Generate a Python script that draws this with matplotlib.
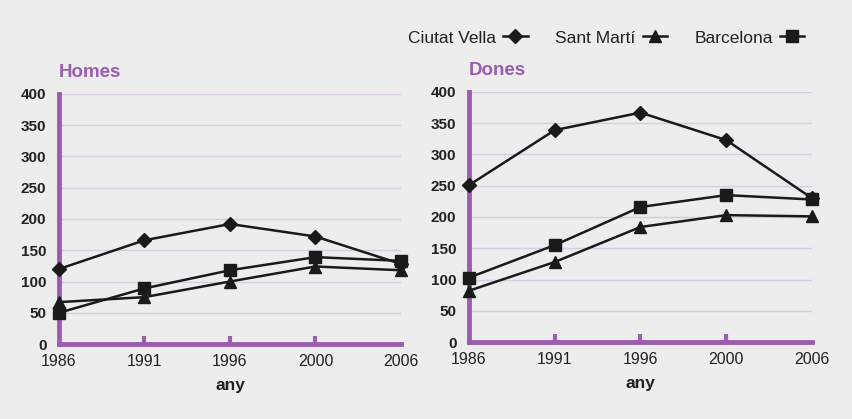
import matplotlib.pyplot as plt

years = ["1986", "1991", "1996", "2000", "2006"]
series_names = ["Ciutat Vella", "Sant Martí", "Barcelona"]
markers = ["D", "^", "s"]

homes_ciutat_vella = [120, 166, 192, 172, 128]
homes_sant_marti = [67, 75, 100, 124, 118]
homes_barcelona = [50, 89, 118, 139, 133]

dones_ciutat_vella = [251, 339, 367, 323, 230]
dones_sant_marti = [82, 128, 184, 203, 201]
dones_barcelona = [103, 155, 216, 235, 228]

yticks = [0, 50, 100, 150, 200, 250, 300, 350, 400]

PURPLE = "#9a5db0"
GRID = "#d9cbe2"
BG = "#ededed"
INK = "#222222"

plt.rcParams["font.family"] = ["Liberation Sans", "DejaVu Sans"]

fig = plt.figure(figsize=(8.53, 4.19), dpi=100, facecolor=BG)
ax1 = fig.add_axes([59 / 853, 1 - 344 / 419, 342 / 853, 250 / 419])
ax2 = fig.add_axes([469 / 853, 1 - 342 / 419, 343 / 853, 250 / 419])


def draw_panel(ax, data, title):
    ax.set_facecolor(BG)
    x = range(len(years))
    handles = []
    for vals, m, name in zip(data, markers, series_names):
        ms = 7 if m == "D" else 9
        h, = ax.plot(x, vals, color="#1a1a1a", lw=1.8, marker=m, ms=ms,
                     clip_on=False, zorder=3, label=name)
        handles.append(h)
    ax.set_xlim(0, 4)
    ax.set_ylim(0, 400)
    ax.set_yticks(yticks)
    ax.set_yticklabels([str(v) for v in yticks], fontweight="bold",
                       fontsize=11, color=INK)
    ax.set_xticks(list(x))
    ax.set_xticklabels(years, fontsize=11.5, color=INK)
    ax.tick_params(axis="y", length=0, pad=9)
    ax.tick_params(axis="x", direction="in", length=6, width=3,
                   color=PURPLE, pad=7)
    ax.xaxis.get_major_ticks()[0].tick1line.set_visible(False)
    ax.xaxis.get_major_ticks()[-1].tick1line.set_visible(False)
    for y in yticks[1:]:
        ax.axhline(y, color=GRID, lw=1, zorder=1)
    for s in ["top", "right"]:
        ax.spines[s].set_visible(False)
    for s in ["left", "bottom"]:
        ax.spines[s].set_color(PURPLE)
        ax.spines[s].set_linewidth(3.5)
    ax.set_xlabel("any", fontweight="bold", fontsize=12.5, color=INK,
                  labelpad=7)
    ax.text(0, 1.05, title, transform=ax.transAxes, fontsize=13.5,
            fontweight="bold", color=PURPLE, ha="left", va="bottom")
    return handles


draw_panel(ax1, [homes_ciutat_vella, homes_sant_marti, homes_barcelona], "Homes")
handles = draw_panel(ax2, [dones_ciutat_vella, dones_sant_marti, dones_barcelona], "Dones")

fig.legend(handles=handles, loc="center right", bbox_to_anchor=(820 / 853, 1 - 38 / 419),
           ncol=3, frameon=False, markerfirst=False, fontsize=12.5,
           handlelength=1.4, columnspacing=1.6, handletextpad=0.4,
           labelcolor=INK)

fig.savefig("out.png", dpi=100, facecolor=BG)
